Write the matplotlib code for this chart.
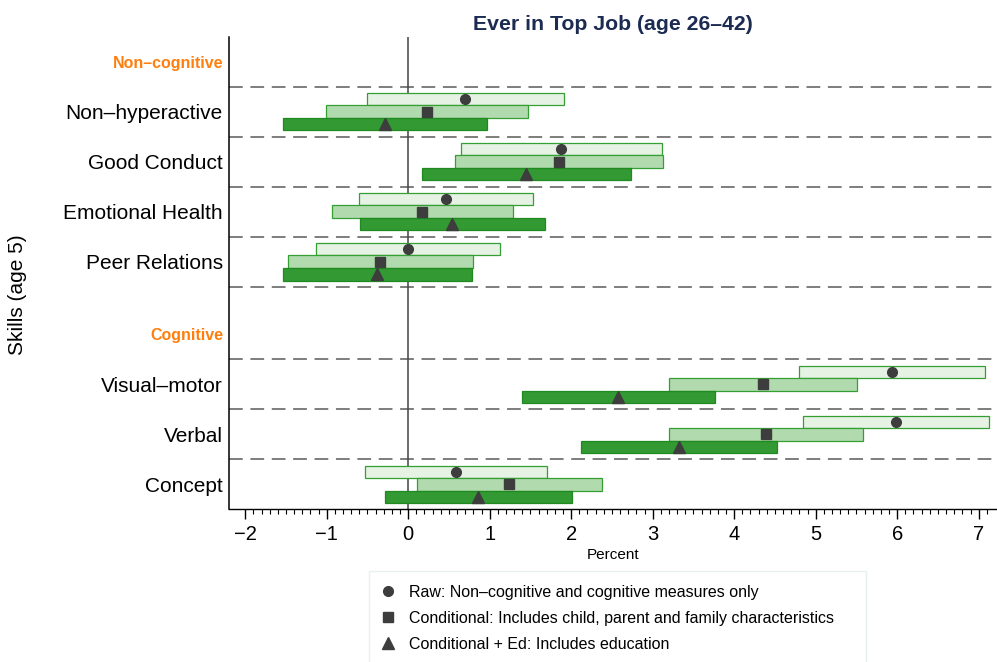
import numpy as np
import matplotlib
matplotlib.use("Agg")
import matplotlib.pyplot as plt
from matplotlib.lines import Line2D

plt.rcParams['font.family'] = ['Liberation Sans', 'DejaVu Sans']

# Skills, top to bottom within each group
noncog_skills = ["Non–hyperactive", "Good Conduct", "Emotional Health", "Peer Relations"]
cog_skills = ["Visual–motor", "Verbal", "Concept"]
group_titles = ["Non–cognitive", "Cognitive"]

# Estimates and 95% intervals (percent), same order: noncog then cog
raw_est = [0.70, 1.88, 0.47, 0.00, 5.94, 5.98, 0.59]
raw_lo = [-0.51, 0.65, -0.60, -1.13, 4.80, 4.84, -0.53]
raw_hi = [1.91, 3.12, 1.53, 1.13, 7.08, 7.13, 1.70]

cond_est = [0.23, 1.85, 0.17, -0.34, 4.35, 4.39, 1.24]
cond_lo = [-1.01, 0.57, -0.94, -1.48, 3.20, 3.20, 0.11]
cond_hi = [1.47, 3.13, 1.28, 0.80, 5.51, 5.58, 2.38]

ed_est = [-0.29, 1.45, 0.54, -0.38, 2.58, 3.32, 0.86]
ed_lo = [-1.54, 0.17, -0.59, -1.54, 1.40, 2.12, -0.29]
ed_hi = [0.97, 2.74, 1.68, 0.78, 3.77, 4.53, 2.01]

legend_labels = [
    "Raw: Non–cognitive and cognitive measures only",
    "Conditional: Includes child, parent and family characteristics",
    "Conditional + Ed: Includes education",
]

# ---- layout of the rows (1 unit per skill row) ----
n_cog = len(cog_skills)
n_nc = len(noncog_skills)
cog_pos = [n_cog - 0.5 - i for i in range(n_cog)]
cog_header = n_cog + 0.5
base_nc = n_cog + 1.45
nc_pos = [base_nc + 0.5 + (n_nc - 1 - i) for i in range(n_nc)]
nc_header = base_nc + n_nc + 0.5
y_top = base_nc + n_nc + 1
dash_ys = [1, 2, 3] + [base_nc + k for k in range(n_nc + 1)]
row_y = np.array(nc_pos + cog_pos)

fig = plt.figure(figsize=(9.97, 6.62), dpi=100)
ax = fig.add_axes([228.5 / 997, (662 - 509.3) / 662, (997 - 228.5) / 997, (509.3 - 36.7) / 662])

# guide lines
for y in dash_ys:
    ax.axhline(y, color='#5a5a5a', lw=1.1, dashes=(9, 5), zorder=1)
ax.axvline(0, color='#444444', lw=1.1, zorder=1)

bar_h = 0.25
series = [
    (raw_est, raw_lo, raw_hi, '#e6f2e4', '#34a034', 'o', 7, bar_h),
    (cond_est, cond_lo, cond_hi, '#b2daaf', '#34a034', 's', 6.5, 0),
    (ed_est, ed_lo, ed_hi, '#339933', '#1f8a1f', '^', 8, -bar_h),
]
mark_col = '#3d3d3d'
for est, lo, hi, face, edge, mk, ms, off in series:
    lo = np.array(lo)
    hi = np.array(hi)
    ax.barh(row_y + off, hi - lo, left=lo, height=bar_h, color=face,
            edgecolor=edge, linewidth=0.9, zorder=2)
    ax.plot(est, row_y + off, ls='', marker=mk, ms=ms, color=mark_col, zorder=3)

ax.set_xlim(-2.205, 7.225)
ax.set_ylim(0, y_top)

# x axis
ax.set_xticks(np.arange(-2, 8, 1))
ax.set_xticks(np.arange(-20, 72, 1) / 10, minor=True)
ax.tick_params(axis='x', which='major', length=7, width=1, labelsize=14.5, pad=4, direction='out')
ax.tick_params(axis='x', which='minor', length=3.5, width=0.8, direction='out')
ax.set_xlabel("Percent", fontsize=11, labelpad=3)

# y axis labels
yt = [nc_header] + nc_pos + [cog_header] + cog_pos
yl = [group_titles[0]] + noncog_skills + [group_titles[1]] + cog_skills
ax.set_yticks(yt)
ax.set_yticklabels(yl)
ax.tick_params(axis='y', length=0, pad=4, labelsize=15)
for lab in ax.get_yticklabels():
    if lab.get_text() in group_titles:
        lab.set_color('#ff7f0e')
        lab.set_fontweight('bold')
        lab.set_fontsize(11.5)
ax.set_ylabel("Skills (age 5)", fontsize=15)
ax.yaxis.set_label_coords(-0.262, 0.455)

ax.spines[['top', 'right']].set_visible(False)
ax.spines['left'].set_linewidth(1.1)
ax.spines['bottom'].set_linewidth(1.0)

ax.set_title("Ever in Top Job (age 26–42)", fontsize=15.3, fontweight='bold',
             color='#1c2b52', pad=5)

handles = [Line2D([], [], ls='', marker=m, ms=s, color=mark_col)
           for m, s in [('o', 7), ('s', 6.5), ('^', 8)]]
leg = fig.legend(handles, legend_labels, loc='upper left',
                 bbox_to_anchor=(369 / 997, 1 - 570.7 / 662, (865.7 - 369) / 997, 0),
                 bbox_transform=fig.transFigure, mode='expand', borderaxespad=0,
                 fontsize=11.5, handlelength=0.6, handletextpad=1.0,
                 borderpad=0.9, labelspacing=0.68, fancybox=False, frameon=True)
leg.get_frame().set_edgecolor('#e3ecec')
leg.get_frame().set_linewidth(1.0)

fig.savefig("out.png", dpi=100)
